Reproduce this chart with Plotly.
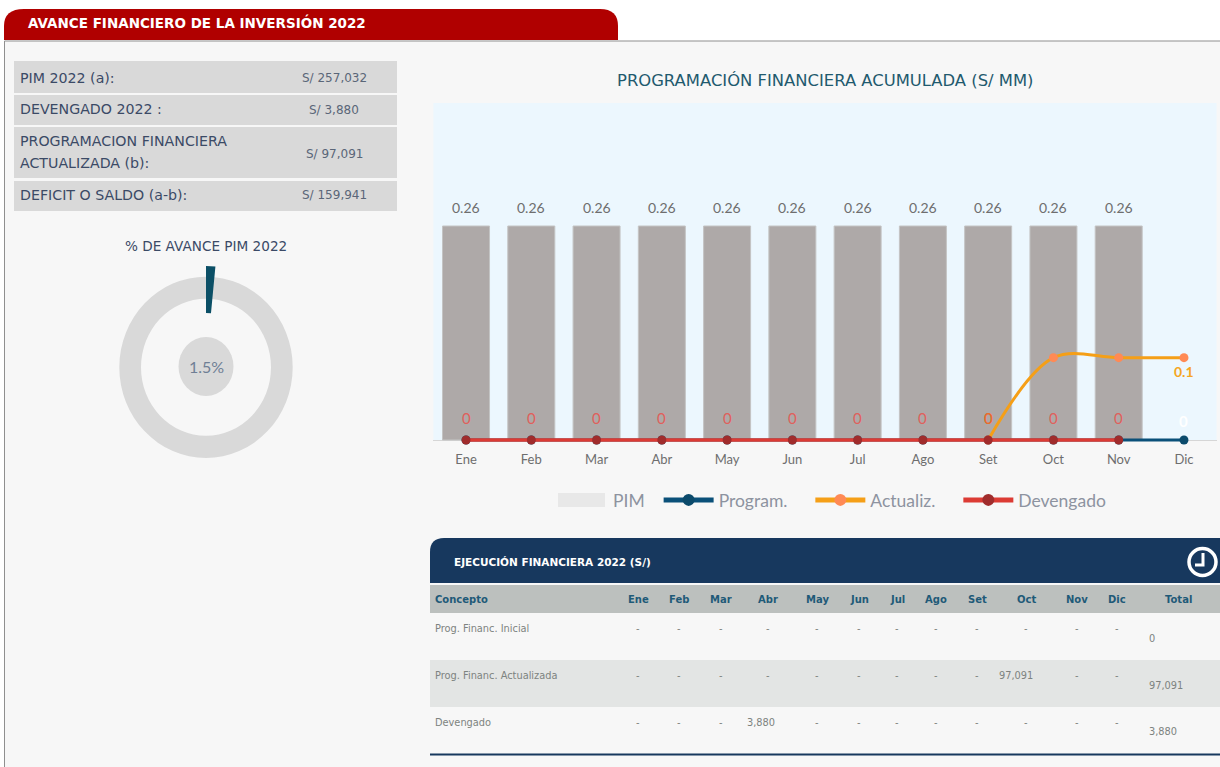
import plotly.graph_objects as go

W, H = 1220, 767
def X(p): return p / W
def Y(p): return 1 - p / H

# ---------- data ----------
meses = ["Ene","Feb","Mar","Abr","May","Jun","Jul","Ago","Set","Oct","Nov","Dic"]
pim = [0.26]*11 + [None]
program = [0]*12
actualiz = [None]*8 + [0, 0.1, 0.1, 0.1]
devengado = [0]*11 + [None]
avance_pct = 1.5

resumen_labels = ["PIM 2022 (a):", "DEVENGADO 2022 :", "PROGRAMACION FINANCIERA<br>ACTUALIZADA (b):", "DEFICIT O SALDO (a-b):"]
resumen_values = ["S/ 257,032", "S/ 3,880", "S/ 97,091", "S/ 159,941"]

tabla_conceptos = ["Prog. Financ. Inicial", "Prog. Financ. Actualizada", "Devengado"]
tabla_valores = [
    ["-"]*12,
    ["-"]*9 + ["97,091", "-", "-"],
    ["-"]*3 + ["3,880"] + ["-"]*8,
]
tabla_totales = ["0", "97,091", "3,880"]

# ---------- colours / fonts ----------
LATO = "Lato, sans-serif"
WIDE = "DejaVu Sans, sans-serif"
TAHOMA = "DejaVu Sans, sans-serif"
shapes, ann = [], []

def rect(x0, y0, x1, y1, fill, line=None, lw=0):
    shapes.append(dict(type="rect", xref="paper", yref="paper", layer="below",
                       x0=X(x0), x1=X(x1), y0=Y(y0), y1=Y(y1), fillcolor=fill,
                       line=dict(color=line or fill, width=lw)))

def ellipse(cx, cy, rx, ry, fill):
    shapes.append(dict(type="circle", xref="paper", yref="paper", layer="below",
                       x0=X(cx - rx), x1=X(cx + rx), y0=Y(cy + ry), y1=Y(cy - ry),
                       fillcolor=fill, line=dict(width=0)))

def path(points, fill, line="rgba(0,0,0,0)", lw=0):
    shapes.append(dict(type="path", xref="paper", yref="paper", layer="below", path=points,
                       fillcolor=fill, line=dict(color=line, width=lw)))

def text(x, y, s, size, color, family=WIDE, anchor="left", bold=False):
    ann.append(dict(x=X(x), y=Y(y), xref="paper", yref="paper", text=f"<b>{s}</b>" if bold else s,
                    showarrow=False, xanchor=anchor, yanchor="middle", align="left",
                    font=dict(size=size, color=color, family=family),
                    borderpad=0, borderwidth=0))

# page panel and red tab
path(f"M{X(4.5)},{Y(775)} L{X(4.5)},{Y(41)} L{X(1225)},{Y(41)} L{X(1225)},{Y(775)} Z", "#f7f7f7", "#8f8f8f", 1)
path(f"M{X(4)},{Y(40)} L{X(4)},{Y(26)} Q{X(4)},{Y(9)} {X(24)},{Y(9)} L{X(600)},{Y(9)} Q{X(618)},{Y(9)} {X(618)},{Y(26)} L{X(618)},{Y(40)} Z", "#b00000")
text(28, 22.5, "AVANCE FINANCIERO DE LA INVERSIÓN 2022", 13.5, "#ffffff", WIDE, bold=True)

# summary block
bandas = [(61, 93), (95, 125), (127, 178), (181, 211)]
label_off = [0.5, -0.5, 0, -1.5]
value_off = [1, 0, 1, -0.5]
for (y0, y1), lab, val, lo, vo in zip(bandas, resumen_labels, resumen_values, label_off, value_off):
    rect(14, y0, 397, y1, "#d9d9d9")
    c = (y0 + y1) / 2
    if "<br>" in lab:
        a, b = lab.split("<br>")
        text(20, c - 11, a, 14.2, "#3b4a66")
        text(20, c + 11, b, 14.2, "#3b4a66")
    else:
        text(20, c + lo, lab, 14.2, "#3b4a66")
    text(334, c + vo, val, 12, "#5a6678", anchor="center")

text(206, 246, "% DE AVANCE PIM 2022", 13.6, "#3b4a66", anchor="center")

# gauge ring, slightly stretched as in the reference
ellipse(206, 367.3, 86.7, 90.6, "#d9d9d9")
ellipse(206, 367.3, 65, 68.5, "#f7f7f7")
ellipse(206, 366.5, 27.5, 29.5, "#d9d9d9")
text(206, 366, f"{avance_pct}%", 16, "#6f7f95", LATO, anchor="center")

# chart title and plot background
text(825, 81, "PROGRAMACIÓN FINANCIERA ACUMULADA (S/ MM)", 16.4, "#1f5a6e", anchor="center")
rect(433.4, 103, 1216.6, 440, "#ecf7fe")

# PIM legend swatch: its own fill is wider than a plotly legend key
rect(558, 493, 605, 507, "#e8e8e8")

# execution table
path(f"M{X(430)},{Y(583)} L{X(430)},{Y(552)} Q{X(430)},{Y(538)} {X(444)},{Y(538)} L{X(1220)},{Y(538)} L{X(1220)},{Y(583)} Z", "#17385e")
text(454, 562, "EJECUCIÓN FINANCIERA 2022 (S/)", 10.5, "#ffffff", TAHOMA, bold=True)
shapes.append(dict(type="circle", xref="paper", yref="paper", x0=X(1189), x1=X(1216), y0=Y(548.5), y1=Y(575.5),
                   fillcolor="#17385e", line=dict(color="#ffffff", width=3.5), layer="below"))
path(f"M{X(1203)},{Y(553)} L{X(1203)},{Y(565)} L{X(1195)},{Y(565)}", "rgba(0,0,0,0)", "#ffffff", 3)

rect(430, 585, 1220, 613, "#bcc0be")
rect(430, 660, 1220, 707, "#e3e5e4")
rect(430, 753.5, 1220, 755.5, "#17385e")

col_x = [638, 679, 721, 768, 817, 859, 897, 936, 977, 1026, 1077, 1117]
HDR = "#1f5a78"
text(435, 599, "Concepto", 10, HDR, TAHOMA, bold=True)
for cx, m in zip(col_x, meses):
    text(cx, 599, m, 10, HDR, TAHOMA, anchor="center", bold=True)
text(1178, 599, "Total", 10, HDR, TAHOMA, anchor="center", bold=True)

CELL = "#7d8380"
fila_y = [628, 675, 722]
total_y = [638, 685, 731]
for fy, ty, con, vals, tot in zip(fila_y, total_y, tabla_conceptos, tabla_valores, tabla_totales):
    text(435, fy, con, 9.8, CELL, TAHOMA)
    for cx, v in zip(col_x, vals):
        if v == "-":
            text(cx, fy, v, 9.8, CELL, TAHOMA, anchor="center")
        else:
            text(cx + 7, fy, v, 9.8, CELL, TAHOMA, anchor="right")
    text(1149, ty, tot, 9.8, CELL, TAHOMA)

# ---------- value labels, tied to the data ----------
def vlabel(cat, val, txt, shift, color, size=14, bold=False):
    ann.append(dict(x=cat, y=val, xref="x", yref="y", text=f"<b>{txt}</b>" if bold else txt,
                    showarrow=False, yshift=shift, yanchor="middle", xanchor="center",
                    font=dict(size=size, color=color, family=LATO)))

for m, v in zip(meses, pim):
    if v is not None:
        vlabel(m, v, f"{v:.2f}", 19, "#6e6e6e")
for m, v in zip(meses, devengado):
    if v is not None:
        vlabel(m, v, f"{v:g}", 22, "#e0605c", size=15)
vlabel(meses[8], actualiz[8], f"{actualiz[8]:g}", 22, "#e8702a", size=15)
vlabel(meses[11], actualiz[11], f"{actualiz[11]:g}", -14, "#f5a623", bold=True)
vlabel(meses[11], program[11], f"{program[11]:g}", 19, "#ffffff", size=15, bold=True)

# ---------- traces ----------
fig = go.Figure()
fig.add_trace(go.Bar(x=meses, y=pim, name="PIM", width=0.72, showlegend=False, hoverinfo="skip",
                     marker=dict(color="#aea9a8", line=dict(color="#c4c4c4", width=1))))
NB = "\u00a0"
fig.add_trace(go.Scatter(x=meses, y=[None]*12, name="PIM" + NB*2, mode="lines", fill="tozeroy",
                         fillcolor="rgba(0,0,0,0)", line=dict(color="rgba(0,0,0,0)", width=0)))
fig.add_trace(go.Scatter(x=meses, y=program, name="Program." + NB*4, mode="lines+markers", cliponaxis=False,
                         line=dict(color="#0a5079", width=3), marker=dict(color="#0b4a6b", size=9)))
fig.add_trace(go.Scatter(x=meses, y=actualiz, name="Actualiz." + NB*4, mode="lines+markers", cliponaxis=False,
                         line=dict(color="#f59f17", width=3, shape="spline", smoothing=1.0),
                         marker=dict(color="#ff8a55", size=9)))
fig.add_trace(go.Scatter(x=meses, y=devengado, name="Devengado", mode="lines+markers", cliponaxis=False,
                         line=dict(color="#dc3b34", width=3.5), marker=dict(color="#a02c2c", size=9)))

# gauge needle, drawn from the percentage
def dom(cx, cy, r):
    return dict(x=[X(cx - r), X(cx + r)], y=[Y(cy + r), Y(cy - r)])
fig.add_trace(go.Pie(values=[avance_pct, 100 - avance_pct], domain=dom(206, 366, 100), hole=0.53, sort=False,
                     direction="clockwise", rotation=0, textinfo="none",
                     marker=dict(colors=["#0b4f66", "rgba(0,0,0,0)"], line=dict(width=0)),
                     showlegend=False, hoverinfo="skip"))

PX_PER_UNIT = 214 / 0.26
fig.update_layout(
    width=W, height=H, margin=dict(l=0, r=0, t=0, b=0), autosize=False,
    paper_bgcolor="#ffffff", plot_bgcolor="rgba(0,0,0,0)", showlegend=True,
    shapes=shapes, annotations=ann, hovermode=False,
    xaxis=dict(domain=[X(433.4), X(1216.6)], type="category", categoryorder="array", categoryarray=meses,
               range=[-0.5, 11.5], fixedrange=True, showgrid=False, zeroline=False,
               showline=False, ticks="", ticklabelstandoff=5,
               tickfont=dict(family=LATO, size=13, color="#6e6e6e")),
    yaxis=dict(domain=[Y(445), Y(103)], range=[-5 / PX_PER_UNIT, 337 / PX_PER_UNIT], fixedrange=True,
               showgrid=False, showticklabels=False, ticks="", showline=False,
               zeroline=True, zerolinecolor="#d6d6d6", zerolinewidth=1),
    legend=dict(orientation="h", x=X(553), y=Y(500), xanchor="left", yanchor="middle",
                itemwidth=50, itemsizing="constant", bgcolor="rgba(0,0,0,0)",
                font=dict(family=LATO, size=17.5, color="#8d93a0")),
)
fig.write_html("out.html", config=dict(displayModeBar=False),
               post_script="document.body.style.margin='0';document.body.style.overflow='hidden';")
